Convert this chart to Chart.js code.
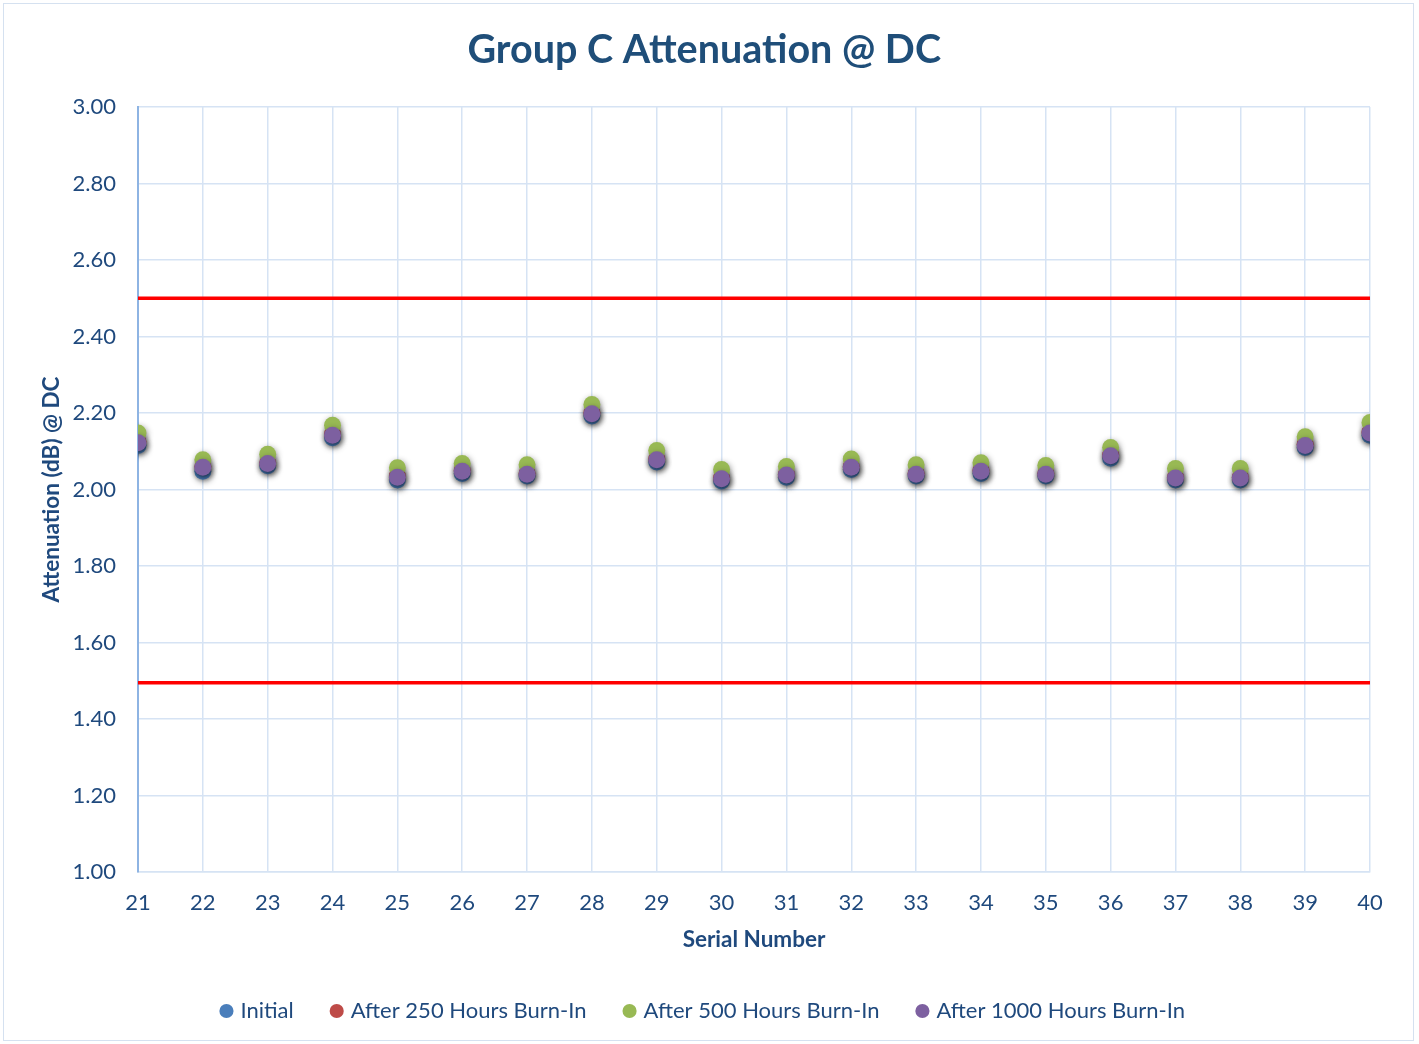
<!DOCTYPE html>
<html>
<head>
<meta charset="utf-8">
<script src="https://cdn.jsdelivr.net/npm/chart.js@4/dist/chart.umd.min.js"></script>
<style>
  html, body { margin: 0; padding: 0; background: #fff; }
  #wrap { position: absolute; left: 0; top: 0; width: 1419px; height: 1044px; }
  #frame { position: absolute; left: 3px; top: 3px; width: 1409px; height: 1036px; border: 1.5px solid #D5E1F0; pointer-events: none; }
</style>
</head>
<body>
<div id="wrap"><canvas id="c" width="1419" height="1044"></canvas><div id="frame"></div></div>
<script>
const serials = [21,22,23,24,25,26,27,28,29,30,31,32,33,34,35,36,37,38,39,40];
const initial   = [2.115,2.048,2.062,2.135,2.025,2.042,2.035,2.192,2.072,2.022,2.032,2.052,2.035,2.042,2.035,2.082,2.025,2.025,2.110,2.142];
const after250  = [2.125,2.060,2.070,2.145,2.035,2.050,2.042,2.200,2.080,2.030,2.040,2.060,2.042,2.050,2.042,2.090,2.032,2.032,2.118,2.150];
const after500  = [2.148,2.078,2.092,2.168,2.057,2.068,2.065,2.222,2.102,2.052,2.060,2.080,2.065,2.070,2.063,2.110,2.055,2.055,2.138,2.175];
const after1000 = [2.122,2.058,2.068,2.142,2.032,2.048,2.040,2.198,2.078,2.028,2.038,2.058,2.040,2.048,2.040,2.088,2.030,2.030,2.115,2.148];
const upperLimit = 2.50;
const lowerLimit = 1.495;
const yTicks = [1.00,1.20,1.40,1.60,1.80,2.00,2.20,2.40,2.60,2.80,3.00];

const textColor = '#1F497D';
const fontFamily = 'Lato, "Open Sans", sans-serif';

const toPts = arr => arr.map((v, i) => ({ x: serials[i], y: v }));
const limitPts = v => [{ x: serials[0], y: v }, { x: serials[serials.length - 1], y: v }];

const markerDs = (label, data, color, order) => ({
  label, data: toPts(data), type: 'scatter', showLine: false, order,
  backgroundColor: color, borderColor: color, borderWidth: 0,
  pointRadius: 8.5, pointHoverRadius: 8.5, pointStyle: 'circle', shadow: true
});

const shadowPlugin = {
  id: 'markerShadow',
  beforeDatasetDraw(chart, args) {
    const ds = chart.data.datasets[args.index];
    chart.ctx.save();
    if (ds.shadow) {
      chart.ctx.shadowColor = 'rgba(0,0,0,0.45)';
      chart.ctx.shadowBlur = 6;
      chart.ctx.shadowOffsetX = 1;
      chart.ctx.shadowOffsetY = 2;
    }
  },
  afterDatasetDraw(chart) { chart.ctx.restore(); }
};

new Chart(document.getElementById('c'), {
  type: 'scatter',
  data: {
    datasets: [
      { label: 'upper', data: limitPts(upperLimit), type: 'line', order: 10, borderColor: '#FF0000', borderWidth: 3.5, pointRadius: 0, fill: false },
      { label: 'lower', data: limitPts(lowerLimit), type: 'line', order: 11, borderColor: '#FF0000', borderWidth: 3.5, pointRadius: 0, fill: false },
      markerDs('Initial', initial, '#4A7EBB', 4),
      markerDs('After 250 Hours Burn-In', after250, '#BE4B48', 3),
      markerDs('After 500 Hours Burn-In', after500, '#98B954', 2),
      markerDs('After 1000 Hours Burn-In', after1000, '#7D60A0', 1)
    ]
  },
  plugins: [shadowPlugin],
  options: {
    responsive: false,
    animation: false,
    events: [],
    layout: { padding: { left: 38.5, right: 49, top: 0, bottom: 12 } },
    plugins: {
      tooltip: { enabled: false },
      title: {
        display: true,
        text: 'Group C Attenuation @ DC',
        color: '#1F4E79',
        font: { family: fontFamily, size: 39.5, weight: 'bold' },
        padding: { top: 26.3, bottom: 33.3 }
      },
      legend: {
        position: 'bottom',
        labels: {
          usePointStyle: true,
          boxWidth: 6, boxHeight: 10,
          padding: 40,
          color: textColor,
          font: { family: fontFamily, size: 22 },
          filter: item => item.datasetIndex >= 2,
          sort: (a, b) => a.datasetIndex - b.datasetIndex
        }
      }
    },
    scales: {
      x: {
        type: 'linear',
        min: serials[0], max: serials[serials.length - 1],
        afterBuildTicks: s => { s.ticks = serials.map(v => ({ value: v })); },
        ticks: { color: textColor, font: { family: fontFamily, size: 22 }, padding: 18, callback: v => String(v) },
        grid: { color: '#D6E3F4', lineWidth: 1.5, drawTicks: false },
        border: { color: '#D6E3F4', width: 1.5 },
        title: { display: true, text: 'Serial Number', color: textColor, font: { family: fontFamily, size: 22.5, weight: 'bold' }, padding: { top: 0, bottom: 6.5 } },
        afterFit: s => { s.height = 88; }
      },
      y: {
        type: 'linear',
        min: 1.0, max: 3.0,
        afterBuildTicks: s => { s.ticks = yTicks.map(v => ({ value: v })); },
        ticks: { color: textColor, font: { family: fontFamily, size: 22 }, padding: 22, callback: v => v.toFixed(2) },
        grid: { color: '#D6E3F4', lineWidth: 1.5, drawTicks: false },
        border: { color: '#8EB4E3', width: 2 },
        title: { display: true, text: 'Attenuation (dB) @ DC', color: textColor, font: { family: fontFamily, size: 22.5, weight: 'bold' }, padding: 0 },
        afterFit: s => { s.width = 99.5; }
      }
    }
  }
});
</script>
</body>
</html>
